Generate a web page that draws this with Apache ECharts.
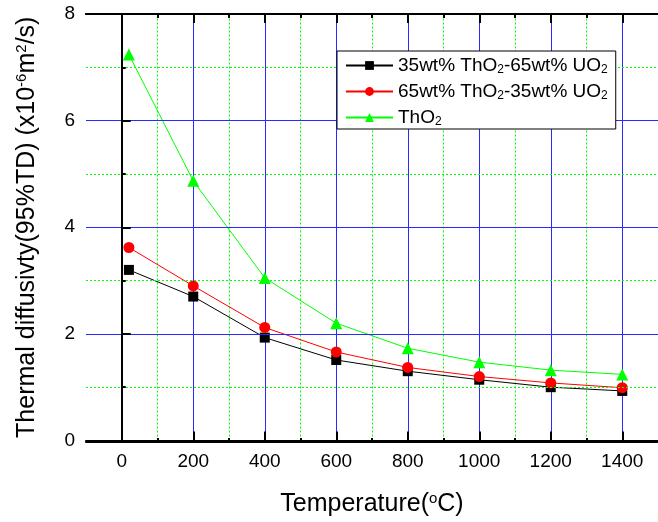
<!DOCTYPE html>
<html>
<head>
<meta charset="utf-8">
<script src="https://cdn.jsdelivr.net/npm/echarts@6/dist/echarts.min.js"></script>
<style>
    html, body { margin: 0; padding: 0; background: #fff; }
    #chart { width: 658px; height: 522px; }
</style>
</head>
<body>
<div id="chart"></div>
<script>
// data
var temps = [20, 200, 400, 600, 800, 1000, 1200, 1400];
var seriesNames = ['35wt% ThO2-65wt% UO2', '65wt% ThO2-35wt% UO2', 'ThO2'];
var mix35 = [3.20, 2.70, 1.93, 1.51, 1.30, 1.14, 1.00, 0.93];
var mix65 = [3.62, 2.90, 2.12, 1.66, 1.37, 1.20, 1.08, 0.99];
var tho2 = [7.24, 4.87, 3.05, 2.20, 1.73, 1.47, 1.32, 1.24];
var xMajorTicks = [0, 200, 400, 600, 800, 1000, 1200, 1400];
var xMinorTicks = [100, 300, 500, 700, 900, 1100, 1300];

(function() {
    var FONT = 'Arial, "Liberation Sans", sans-serif';
    var GRID = { left: 86, top: 14, right: -5, bottom: 80 };

    // legend names with subscripts
    var legendRich = {
        '35wt% ThO2-65wt% UO2': '35wt% ThO{sub|2}-65wt% UO{sub|2}',
        '65wt% ThO2-35wt% UO2': '65wt% ThO{sub|2}-35wt% UO{sub|2}',
        'ThO2': 'ThO{sub|2}'
    };

    var titleRich = {
        n: { fontSize: 25, fontFamily: FONT, color: '#000', lineHeight: 26 },
        sup: { fontSize: 15, fontFamily: FONT, color: '#000', lineHeight: 12, verticalAlign: 'top' }
    };

    function pairs(vals) {
        return temps.map(function(t, i) { return [t, vals[i]]; });
    }

    function xAxisBase(gridIndex, position) {
        return {
            type: 'value',
            gridIndex: gridIndex,
            position: position,
            min: -100,
            max: 1500,
            axisLine: { show: true, onZero: false, lineStyle: { color: '#000', width: 2 } },
            axisLabel: { show: false },
            splitLine: { show: false },
            z: 5
        };
    }

    // vertical grid lines drawn as markLines on an empty series
    function gridLines(values, color, type) {
        return {
            type: 'line',
            xAxisIndex: 0,
            yAxisIndex: 0,
            data: [],
            z: 1,
            silent: true,
            markLine: {
                z: 1,
                silent: true,
                animation: false,
                symbol: ['none', 'none'],
                label: { show: false },
                lineStyle: { color: color, width: 1, type: type },
                emphasis: { disabled: true },
                data: values.map(function(v) { return { xAxis: v }; })
            }
        };
    }

    var chart = echarts.init(document.getElementById('chart'));

    // grid 0: major ticks + labels
    var xMain = xAxisBase(0, 'bottom');
    xMain.name = '{n|Temperature(}{sup|o}{n|C)}';
    xMain.nameLocation = 'middle';
    xMain.nameGap = 51;
    xMain.nameTextStyle = { rich: titleRich };
    xMain.axisTick = { show: true, inside: true, length: 9, customValues: xMajorTicks, lineStyle: { color: '#000', width: 2 } };
    xMain.axisLabel = {
        show: true, customValues: xMajorTicks, fontSize: 19, fontFamily: FONT, color: '#000', margin: 12,
        formatter: function(v) { return String(v); }
    };

    var xTop = xAxisBase(0, 'top');
    xTop.axisTick = { show: true, inside: true, length: 9, customValues: xMajorTicks, lineStyle: { color: '#000', width: 2 } };

    // grid 1: same box, short ticks at the odd hundreds
    var xMinor = xAxisBase(1, 'bottom');
    xMinor.axisTick = { show: true, inside: true, length: 4, customValues: xMinorTicks, lineStyle: { color: '#000', width: 2 } };

    var xMinorTop = xAxisBase(1, 'top');
    xMinorTop.axisTick = { show: true, inside: true, length: 4, customValues: xMinorTicks, lineStyle: { color: '#000', width: 2 } };

    var option = {
        backgroundColor: '#fff',
        animation: false,
        grid: [
            { left: GRID.left, top: GRID.top, right: GRID.right, bottom: GRID.bottom },
            { left: GRID.left, top: GRID.top, right: GRID.right, bottom: GRID.bottom }
        ],
        legend: {
            orient: 'vertical',
            left: 337,
            top: 51,
            z: 10,
            padding: [4, 8, 1, 8],
            itemGap: 5,
            itemWidth: 47,
            itemHeight: 11,
            backgroundColor: '#fff',
            borderColor: '#000',
            borderWidth: 1,
            borderRadius: 0,
            data: seriesNames,
            formatter: function(name) { return legendRich[name]; },
            textStyle: {
                fontSize: 19,
                fontFamily: FONT,
                color: '#000',
                lineHeight: 21,
                rich: {
                    sub: { fontSize: 12, fontFamily: FONT, color: '#000', lineHeight: 10, verticalAlign: 'bottom' }
                }
            }
        },
        xAxis: [xMain, xTop, xMinor, xMinorTop],
        yAxis: [
            {
                type: 'value',
                gridIndex: 0,
                min: 0,
                max: 8,
                interval: 2,
                name: '{n|Thermal diffusivty(95%TD) (x10}{sup|-6}{n|m}{sup|2}{n|/s)}',
                nameLocation: 'middle',
                nameGap: 46,
                nameTextStyle: { rich: titleRich },
                axisLine: { show: true, lineStyle: { color: '#000', width: 2 } },
                axisTick: { show: true, inside: true, length: 9, lineStyle: { color: '#000', width: 2 } },
                minorTick: { show: true, splitNumber: 2, length: 4, lineStyle: { color: '#000', width: 2 } },
                axisLabel: { fontSize: 19, fontFamily: FONT, color: '#000', margin: 11 },
                splitLine: { show: true, lineStyle: { color: '#2a2aff', width: 1 } },
                minorSplitLine: { show: true, lineStyle: { color: '#00ff00', width: 1, type: [2, 2] } },
                z: 5
            },
            {
                type: 'value',
                gridIndex: 1,
                min: 0,
                max: 8,
                show: false,
                splitLine: { show: false }
            }
        ],
        series: [
            gridLines(xMinorTicks, '#00ff00', [2, 2]),
            gridLines(xMajorTicks, '#2a2aff', 'solid'),
            {
                name: seriesNames[0],
                type: 'line',
                data: pairs(mix35),
                symbol: 'rect',
                symbolSize: 10,
                z: 3,
                color: '#000',
                lineStyle: { color: '#000', width: 1 },
                itemStyle: { color: '#000' }
            },
            {
                name: seriesNames[1],
                type: 'line',
                data: pairs(mix65),
                symbol: 'circle',
                symbolSize: 11,
                z: 3,
                color: '#ff0000',
                lineStyle: { color: '#ff0000', width: 1 },
                itemStyle: { color: '#ff0000' }
            },
            {
                name: seriesNames[2],
                type: 'line',
                data: pairs(tho2),
                symbol: 'triangle',
                symbolSize: 12,
                z: 3,
                color: '#00ff00',
                lineStyle: { color: '#00ff00', width: 1 },
                itemStyle: { color: '#00ff00' }
            }
        ]
    };

    chart.setOption(option);
})();
</script>
</body>
</html>
